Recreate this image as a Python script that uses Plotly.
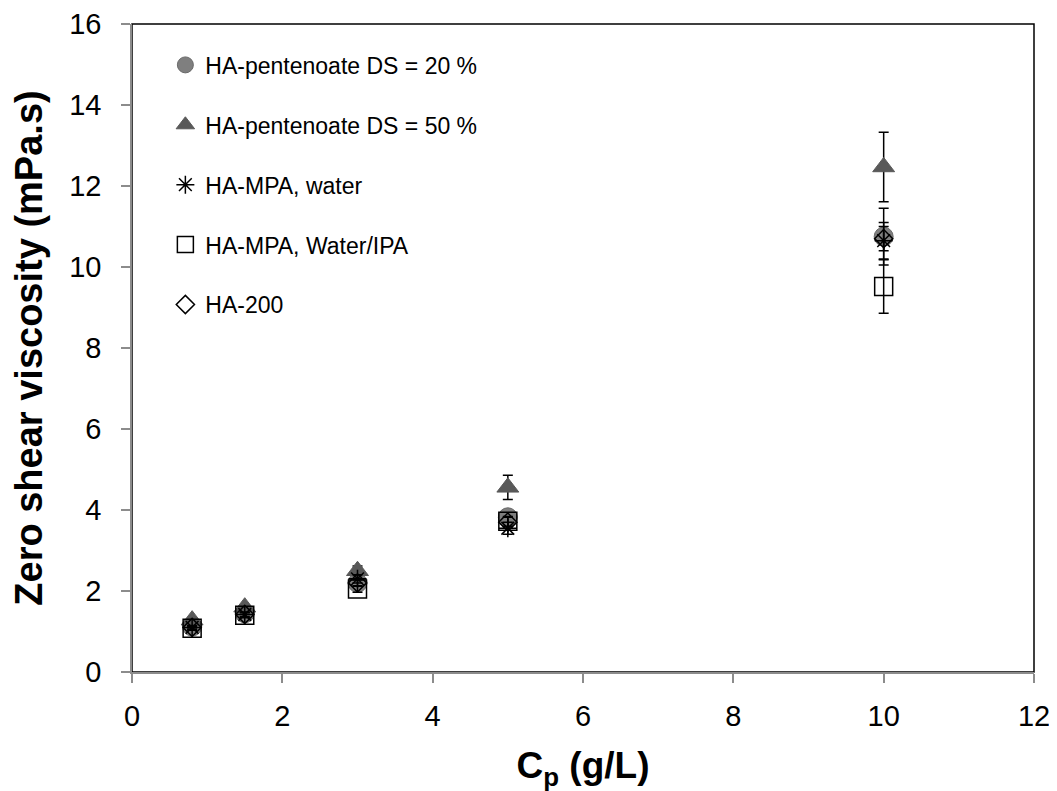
import plotly.graph_objects as go

cp = [0.8, 1.5, 3, 5, 10]

ds20 = [1.12, 1.45, 2.2, 3.82, 10.75]
ds20_err = [0.05, 0.06, 0.1, 0.15, 0.7]

ds50 = [1.28, 1.6, 2.5, 4.56, 12.47]
ds50_err = [0.05, 0.06, 0.12, 0.3, 0.86]

mpa_water = [1.1, 1.42, 2.3, 3.55, 10.65]
mpa_water_err = [0.05, 0.06, 0.1, 0.15, 0.45]

mpa_ipa = [1.08, 1.4, 2.05, 3.72, 9.52]
mpa_ipa_err = [0.05, 0.06, 0.08, 0.12, 0.66]

ha200 = [1.1, 1.42, 2.2, 3.7, 10.7]
ha200_err = [0.04, 0.05, 0.08, 0.12, 0.3]

names = ["HA-pentenoate DS = 20 %", "HA-pentenoate DS = 50 %", "HA-MPA, water",
         "HA-MPA, Water/IPA", "HA-200"]

fig = go.Figure()

def add(y, err, name, symbol, size, color, line_color, lw, group):
    fig.add_trace(go.Scatter(
        x=cp, y=y, mode="markers", name=name, legendgroup=group,
        marker=dict(symbol=symbol, size=size, color=color,
                    line=dict(color=line_color, width=lw)),
        error_y=dict(type="data", array=err, visible=True, color="black",
                     thickness=1.5, width=5),
    ))

add(ds20, ds20_err, names[0], "circle", 19, "#7f7f7f", "#6a6a6a", 1, "a")
add(ds50, ds50_err, names[1], "triangle-up", 19, "#595959", "#595959", 1, "b")
add(mpa_water, mpa_water_err, names[2], "asterisk-open", 15, "black", "black", 1.5, "c")
add(mpa_ipa, mpa_ipa_err, names[3], "square-open", 18, "black", "black", 1.5, "d")
add(ha200, ha200_err, names[4], "diamond-open", 14, "black", "black", 1.5, "e")

fig.add_shape(type="rect", xref="paper", yref="paper", x0=0, x1=1, y0=0, y1=1,
              line=dict(color="black", width=1.5), layer="below")

fig.update_layout(
    width=1049, height=783,
    margin=dict(l=124, r=23, t=16, b=119, autoexpand=False),
    plot_bgcolor="white", paper_bgcolor="white",
    font=dict(family="Liberation Sans, Arial, sans-serif", size=23, color="black"),
    showlegend=True,
    legend=dict(x=0.037, y=0.97, xanchor="left", yanchor="top",
                bgcolor="rgba(0,0,0,0)", font=dict(size=23),
                tracegroupgap=27, itemwidth=30),
    xaxis=dict(
        range=[0, 12], dtick=2, showgrid=False, zeroline=False,
        showline=True, linecolor="#8c8c8c", linewidth=1.5,
        ticks="outside", ticklen=9, tickcolor="#8c8c8c", tickwidth=1.5,
        tickfont=dict(size=29), ticklabelstandoff=8, automargin=False,
        title=dict(text="<b>C<sub>p</sub> (g/L)</b>", font=dict(size=37), standoff=22),
    ),
    yaxis=dict(
        range=[0, 16], dtick=2, showgrid=False, zeroline=False,
        showline=True, linecolor="#8c8c8c", linewidth=1.5,
        ticks="outside", ticklen=9, tickcolor="#8c8c8c", tickwidth=1.5,
        tickfont=dict(size=29), ticklabelstandoff=14, automargin=False,
        title=dict(text="<b>Zero shear viscosity (mPa.s)</b>", font=dict(size=38), standoff=17),
    ),
)

fig.write_html("out.html")
